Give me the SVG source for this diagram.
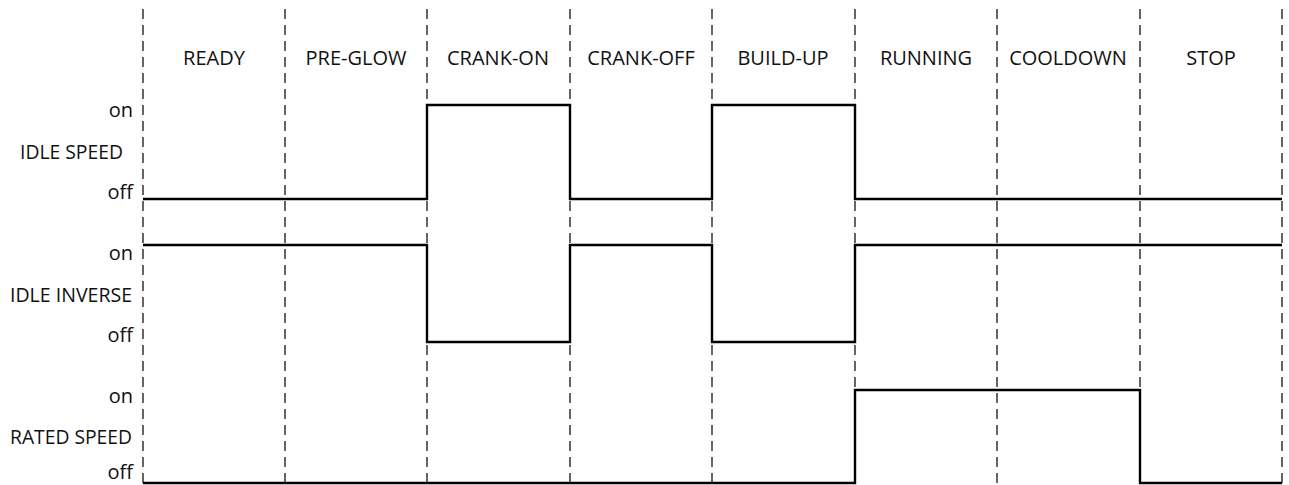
<svg xmlns="http://www.w3.org/2000/svg" width="1289" height="485" viewBox="0 0 1289 485">
<style>
text{font-family:"Open Sans","Noto Sans",sans-serif;font-size:20px;fill:#111}
.ph{text-anchor:middle}
.lb{text-anchor:end}
.grid{stroke:#333;stroke-width:1.5;stroke-dasharray:10,6;fill:none}
.sig{stroke:#000;stroke-width:2.4;fill:none}
</style>
<rect width="1289" height="485" fill="#fff"/>
<g id="grid">
<line class="grid" x1="143" y1="9" x2="143" y2="485"/>
<line class="grid" x1="285" y1="9" x2="285" y2="485"/>
<line class="grid" x1="427" y1="9" x2="427" y2="485"/>
<line class="grid" x1="570" y1="9" x2="570" y2="485"/>
<line class="grid" x1="712" y1="9" x2="712" y2="485"/>
<line class="grid" x1="855" y1="9" x2="855" y2="485"/>
<line class="grid" x1="997" y1="9" x2="997" y2="485"/>
<line class="grid" x1="1140" y1="9" x2="1140" y2="485"/>
<line class="grid" x1="1282" y1="9" x2="1282" y2="485"/>
</g>
<g id="phases">
<text class="ph" x="214" y="65">READY</text>
<text class="ph" x="356" y="65">PRE-GLOW</text>
<text class="ph" x="498" y="65">CRANK-ON</text>
<text class="ph" x="641" y="65">CRANK-OFF</text>
<text class="ph" x="783" y="65">BUILD-UP</text>
<text class="ph" x="926" y="65">RUNNING</text>
<text class="ph" x="1068" y="65">COOLDOWN</text>
<text class="ph" x="1211" y="65">STOP</text>
</g>
<g id="idle-speed">
<text class="lb" x="133" y="117">on</text>
<text class="lb" x="123" y="159" textLength="103" lengthAdjust="spacingAndGlyphs">IDLE SPEED</text>
<text class="lb" x="133" y="199">off</text>
<path class="sig" d="M143,199 H427 V105 H570 V199 H712 V105 H855 V199 H1282"/>
</g>
<g id="idle-inverse">
<text class="lb" x="133" y="260">on</text>
<text class="lb" x="132" y="302" textLength="122" lengthAdjust="spacingAndGlyphs">IDLE INVERSE</text>
<text class="lb" x="133" y="342">off</text>
<path class="sig" d="M143,245 H427 V342 H570 V245 H712 V342 H855 V245 H1282"/>
</g>
<g id="rated-speed">
<text class="lb" x="133" y="403">on</text>
<text class="lb" x="132" y="444" textLength="122" lengthAdjust="spacingAndGlyphs">RATED SPEED</text>
<text class="lb" x="133" y="479">off</text>
<path class="sig" d="M143,483 H855 V390 H1140 V483 H1282"/>
</g>
</svg>
